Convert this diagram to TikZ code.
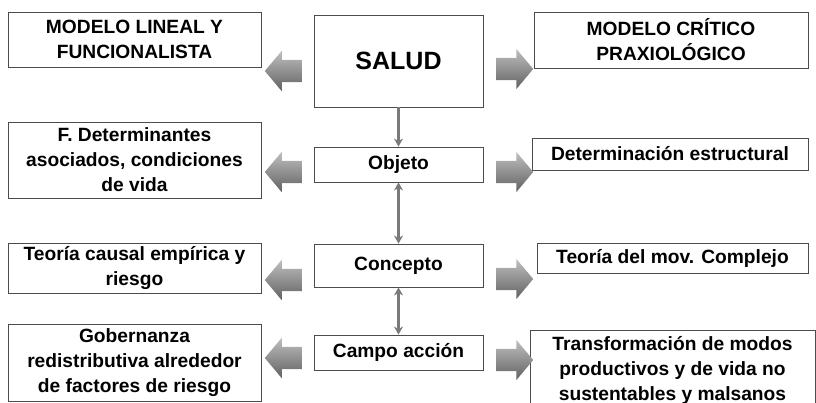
\documentclass[tikz,border=0pt]{standalone}
\usepackage{fontspec}
\setmainfont{Liberation Sans}
\usetikzlibrary{shapes.arrows,arrows.meta}

\begin{document}
\begin{tikzpicture}[x=1pt,y=-1pt,
  box/.style={draw=black!70,line width=0.9pt,fill=white,align=center,inner sep=0pt,
    font=\bfseries\fontsize{19.2}{25}\selectfont},
  fat/.style={single arrow,draw=none,inner sep=11pt,minimum height=37pt,
    single arrow head extend=9pt,single arrow tip angle=100,
    top color=black!25,bottom color=black!62},
  link/.style={draw=black!52,line width=2.2pt,-{Stealth[length=8pt,width=9pt]}},
  twolink/.style={link,{Stealth[length=8pt,width=9pt]}-{Stealth[length=8pt,width=9pt]}}]
  \useasboundingbox (0,0) rectangle (816,403);
  % models and salud
  \node[box,minimum width=253pt,minimum height=55pt] (lineal) at (134.5,39.5) {MODELO LINEAL Y\\FUNCIONALISTA};
  \node[box,minimum width=169pt,minimum height=92pt,font=\bfseries\fontsize{25}{30}\selectfont] (salud) at (398.5,61) {SALUD};
  \node[box,minimum width=274pt,minimum height=56pt] (critico) at (671,40) {MODELO CRÍTICO\\PRAXIOLÓGICO};
  % objeto
  \node[box,minimum width=253pt,minimum height=76pt] (determ) at (134.5,160) {F. Determinantes\\asociados, condiciones\\de vida};
  \node[box,minimum width=169pt,minimum height=35pt] (objeto) at (398.5,164.5) {Objeto};
  \node[box,minimum width=276pt,minimum height=32pt] (estruct) at (670,154) {Determinación estructural};
  % concepto
  \node[box,minimum width=253pt,minimum height=50pt] (causal) at (134.5,268) {Teoría causal empírica y\\riesgo};
  \node[box,minimum width=169pt,minimum height=43pt] (concepto) at (398.5,265.5) {Concepto};
  \node[box,minimum width=271pt,minimum height=30pt] (complejo) at (672.5,258) {Teoría del mov. Complejo};
  % campo accion
  \node[box,minimum width=253pt,minimum height=77pt] (gobern) at (134.5,362.5) {Gobernanza\\redistributiva alrededor\\de factores de riesgo};
  \node[box,minimum width=169pt,minimum height=35pt] (campo) at (398.5,352.5) {Campo acción};
  \node[box,minimum width=285pt,minimum height=80pt] (transf) at (672.5,370) {Transformación de modos\\productivos y de vida no\\sustentables y malsanos};
  % big arrows
  \node[fat,shape border rotate=180] (izq1) at (288,71) {};
  \node[fat] (der1) at (510,69) {};
  \node[fat,shape border rotate=180] (izq2) at (288,172) {};
  \node[fat] (der2) at (510,172) {};
  \node[fat,shape border rotate=180] (izq3) at (288,280) {};
  \node[fat] (der3) at (510,279) {};
  \node[fat,shape border rotate=180] (izq4) at (288,358) {};
  \node[fat] (der4) at (510,360) {};
  % links
  \draw[link] (salud) -- (objeto);
  \draw[twolink] (objeto) -- (concepto);
  \draw[twolink] (concepto) -- (campo);
\end{tikzpicture}
\end{document}
